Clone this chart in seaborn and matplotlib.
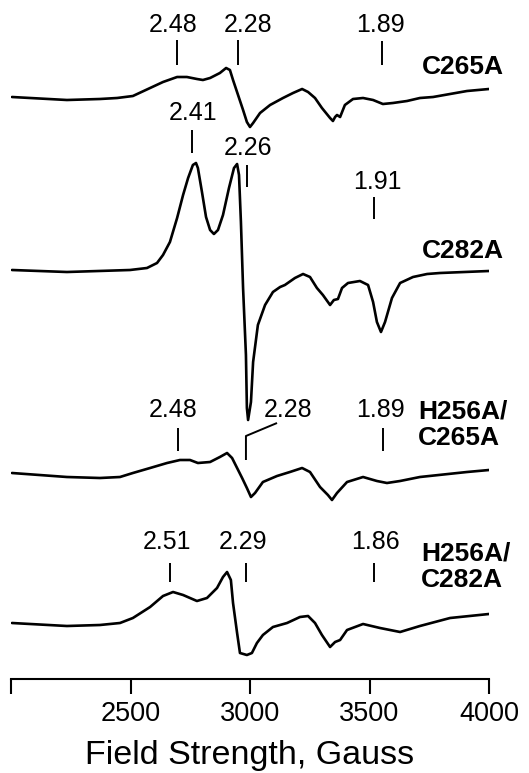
import matplotlib
matplotlib.use("Agg")
import matplotlib.pyplot as plt
import seaborn as sns
import pandas as pd

# ---------------- data (field in Gauss, intensity in arbitrary units) ----------------
field_c265a = [2004, 2234, 2372, 2444, 2510, 2582, 2636, 2695, 2736, 2778, 2803, 2833,
               2874, 2900, 2916, 2929, 2950, 2971, 2987, 3000, 3013, 3042, 3084, 3138,
               3180, 3218, 3243, 3272, 3301, 3335, 3347, 3356, 3364, 3377, 3397, 3431,
               3473, 3515, 3556, 3598, 3657, 3711, 3766, 3908, 4000]
sig_c265a = [1, -2, -1, 0, 2, 10, 16, 21, 21, 19, 18, 20,
             25, 30, 28, 18, 3, -12, -24, -29, -25, -15, -7, 0,
             5, 9, 6, 0, -10, -20, -23, -19, -17, -19, -7, -1,
             0, -2, -6, -5, -3, 0, 1, 7, 9]

field_c282a = [2004, 2234, 2498, 2569, 2611, 2636, 2665, 2695, 2720, 2741,
               2761, 2774, 2782, 2799, 2816, 2833, 2849, 2866, 2887, 2912,
               2933, 2946, 2954, 2962, 2971, 2983, 2987, 2992, 3004, 3013,
               3033, 3063, 3096, 3126, 3146, 3188, 3222, 3251, 3280, 3305,
               3335, 3351, 3368, 3385, 3410, 3460, 3494, 3515, 3531, 3548,
               3565, 3594, 3628, 3682, 3741, 3795, 4000]
sig_c282a = [1, -1, 1, 3, 8, 16, 29, 53, 76, 93,
             106, 108, 103, 79, 54, 41, 37, 41, 56, 83,
             103, 107, 96, 49, -17, -84, -137, -149, -131, -91,
             -54, -34, -21, -16, -14, -7, -3, -6, -17, -24,
             -34, -29, -28, -17, -12, -10, -14, -31, -51, -61,
             -51, -27, -12, -6, -3, -2, 0]

field_h256a_c265a = [2004, 2234, 2372, 2456, 2510, 2582, 2653, 2707, 2749, 2782,
                     2833, 2874, 2904, 2925, 2946, 2967, 2987, 3004, 3021, 3054,
                     3113, 3167, 3218, 3251, 3293, 3326, 3343, 3364, 3406, 3473,
                     3531, 3573, 3628, 3711, 3908, 4000]
sig_h256a_c265a = [2, -2, -3, -2, 2, 7, 12, 15, 15, 12,
                   13, 18, 22, 17, 7, -3, -13, -22, -18, -7,
                   -1, 3, 7, 3, -12, -20, -25, -18, -7, -2,
                   -6, -8, -6, -2, 3, 5]

field_h256a_c282a = [2004, 2234, 2372, 2456, 2510, 2582, 2636, 2678, 2720, 2778,
                     2820, 2862, 2887, 2904, 2920, 2929, 2946, 2958, 2987, 3008,
                     3029, 3054, 3096, 3155, 3209, 3243, 3272, 3301, 3335, 3356,
                     3377, 3406, 3473, 3544, 3628, 3711, 3837, 4000]
sig_h256a_c282a = [0, -3, -2, 0, 5, 16, 27, 31, 28, 22,
                   25, 35, 46, 51, 43, 20, -10, -30, -32, -30,
                   -20, -12, -4, 0, 6, 7, 0, -12, -24, -19,
                   -17, -7, -1, -5, -9, -3, 5, 9]

sample_names = ["C265A", "C282A", "H256A/\nC265A", "H256A/\nC282A"]
trace_offsets = [-98, -271, -475, -623]

# g-value markers: labels and field of each marker
g_labels = [["2.48", "2.28", "1.89"],
            ["2.41", "2.26", "1.91"],
            ["2.48", "2.28", "1.89"],
            ["2.51", "2.29", "1.86"]]
g_fields = [[2695, 2950, 3552],
            [2757, 2987, 3519],
            [2699, 2983, 3556],
            [2665, 2983, 3519]]

tick_values = [2000, 2500, 3000, 3500, 4000]
tick_labels = ["", "2500", "3000", "3500", "4000"]
x_title = "Field Strength, Gauss"

# ---------------- layout / style ----------------
sns.set_style("white")
plt.rcParams["font.family"] = ["Liberation Sans", "DejaVu Sans"]
plt.rcParams["text.color"] = "black"
plt.rcParams["axes.labelcolor"] = "black"
plt.rcParams["xtick.color"] = "black"

W, H = 529, 773
fig = plt.figure(figsize=(W / 100, H / 100), dpi=100)
ax_bottom_px = 679
ax = fig.add_axes([11 / W, (H - ax_bottom_px) / H, 478 / W, ax_bottom_px / H])

fields = [field_c265a, field_c282a, field_h256a_c265a, field_h256a_c282a]
sigs = [sig_c265a, sig_c282a, sig_h256a_c265a, sig_h256a_c282a]

frames = []
for name, f, s, off in zip(sample_names, fields, sigs, trace_offsets):
    d = pd.DataFrame({"field": f, "signal": [v + off for v in s]})
    d["sample"] = name
    frames.append(d)
df = pd.concat(frames, ignore_index=True)

sns.lineplot(data=df, x="field", y="signal", units="sample", estimator=None,
             sort=False, color="black", linewidth=1.9, ax=ax, legend=False)

# marker label positions (text center x in G, text center y in px from top) and tick y ranges
lab_pos = [[(2678, 25), (2991, 25), (3544, 25)],
           [(2761, 113), (2991, 148), (3531, 182)],
           [(2678, 410), (3159, 410), (3544, 410)],
           [(2653, 542), (2971, 542), (3523, 542)]]
tick_rng = [[(40, 65), (40, 65), (41, 65)],
            [(130, 153), (165, 187), (197, 219)],
            [(428, 451), None, (428, 451)],
            [(563, 582), (563, 582), (563, 582)]]

for i in range(4):
    for j in range(3):
        lx, ly = lab_pos[i][j]
        ax.text(lx, -ly, g_labels[i][j], ha="center", va="center", fontsize=18,
                color="black")
        gx = g_fields[i][j]
        if tick_rng[i][j] is not None:
            y0, y1 = tick_rng[i][j]
            ax.plot([gx, gx], [-y0, -y1], color="black", lw=1.4, solid_capstyle="butt")
        else:
            ax.plot([3113, gx, gx], [-423, -436, -460], color="black", lw=1.4,
                    solid_capstyle="butt")

name_pos = [(3720, 67), (3720, 251), (3703, 425), (3715, 567)]
for name, (nx, ny) in zip(sample_names, name_pos):
    ax.text(nx, -ny, name, ha="left", va="center", fontsize=19, fontweight="bold",
            linespacing=1.15, color="black")

ax.set_xlim(2000, 4000)
ax.set_ylim(-ax_bottom_px, 0)
ax.set_xticks(tick_values)
ax.set_xticklabels(tick_labels)
ax.set_yticks([])
ax.set_xlabel(x_title, fontsize=24.5, labelpad=9)
ax.set_ylabel("")
for s in ["left", "top", "right"]:
    ax.spines[s].set_visible(False)
ax.spines["bottom"].set_linewidth(1.5)
ax.spines["bottom"].set_color("black")
ax.tick_params(axis="x", direction="out", length=11, width=1.5, pad=5,
               labelsize=19.5, bottom=True, colors="black")
ax.patch.set_alpha(0)

fig.savefig("out.png", dpi=100)
